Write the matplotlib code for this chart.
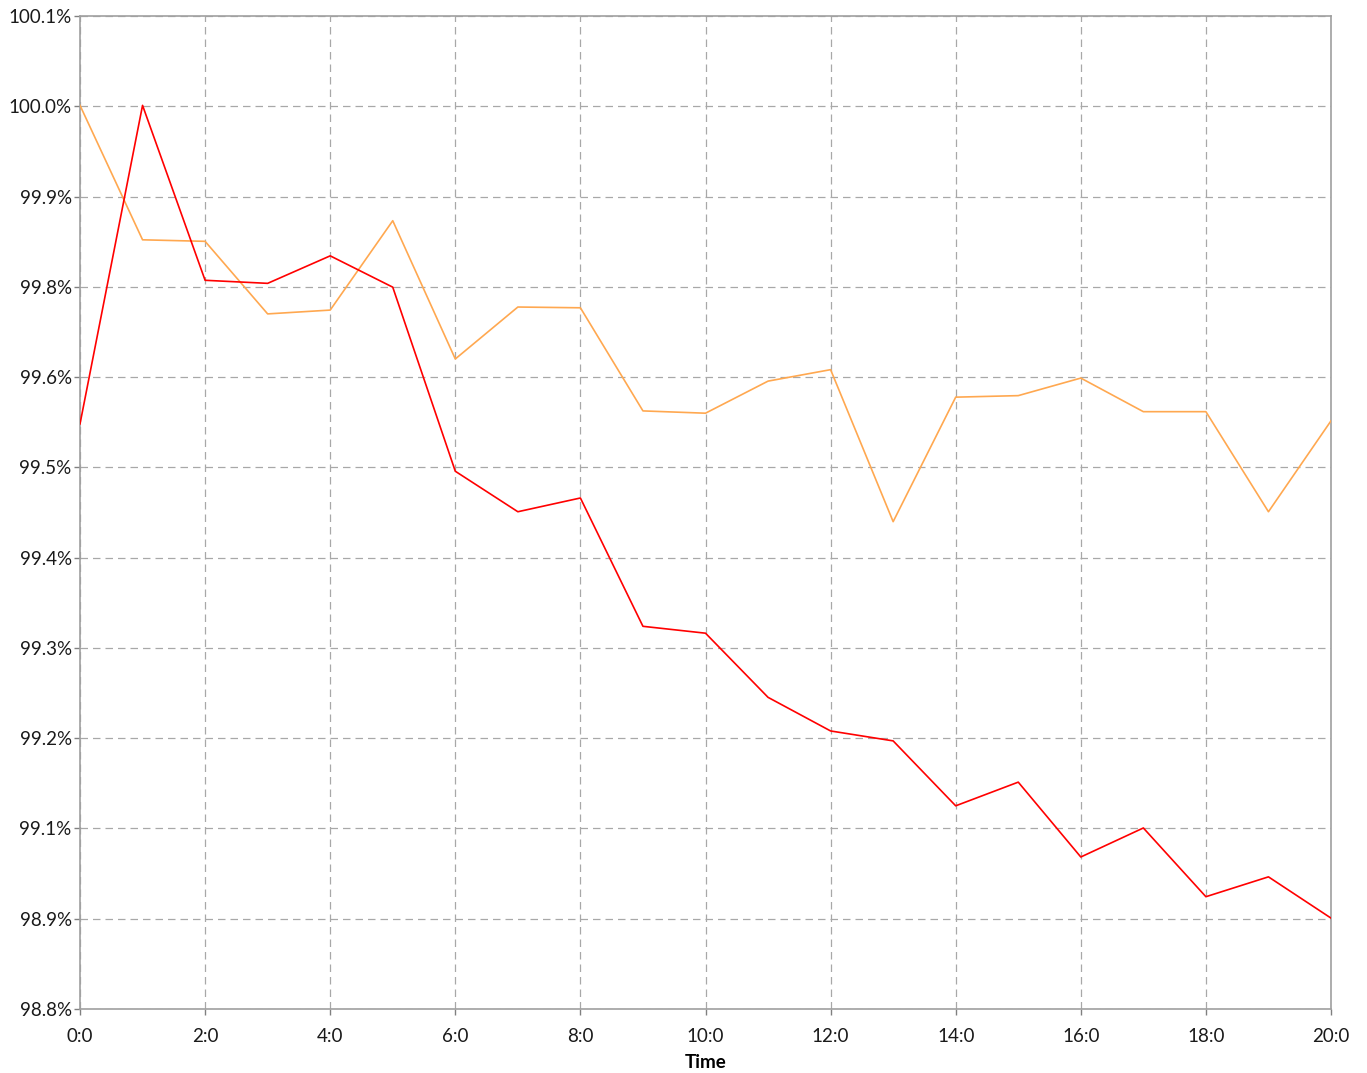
import numpy as np
import matplotlib
matplotlib.use("Agg")
import matplotlib.pyplot as plt

# hours 0..20, values (percent)
hours = list(range(21))
red_vals = [99.566, 99.983, 99.754, 99.750, 99.786, 99.745, 99.504, 99.451,
            99.469, 99.301, 99.292, 99.208, 99.164, 99.151, 99.066, 99.097,
            98.999, 99.037, 98.947, 98.973, 98.919]
orange_vals = [99.983, 99.807, 99.805, 99.710, 99.715, 99.832, 99.651, 99.719,
               99.718, 99.583, 99.580, 99.622, 99.637, 99.438, 99.601, 99.603,
               99.626, 99.582, 99.582, 99.451, 99.570]

y_min, y_max = 98.8, 100.1
y_labels = ["98.8%", "98.9%", "99.1%", "99.2%", "99.3%", "99.4%",
            "99.5%", "99.6%", "99.8%", "99.9%", "100.0%", "100.1%"]
x_ticks = list(range(0, 21, 2))
x_labels = ["%d:0" % h for h in x_ticks]

plt.rcParams['font.family'] = ['Lato', 'DejaVu Sans']

fig = plt.figure(figsize=(13.67, 10.73), dpi=100)
ax = fig.add_axes([80 / 1367, 1 - 1009 / 1073, (1331 - 80) / 1367, (1009 - 16) / 1073])

ax.plot(hours, orange_vals, color='#FFA850', lw=1.2, zorder=3)
ax.plot(hours, red_vals, color='#FF0000', lw=1.2, zorder=4)

ax.set_xlim(0, 20)
ax.set_ylim(y_min, y_max)
ax.set_xticks(x_ticks)
ax.set_xticklabels(x_labels)
ax.set_yticks(np.linspace(y_min, y_max, len(y_labels)))
ax.set_yticklabels(y_labels)

ax.grid(True, color='#A8A8A8', lw=0.9, linestyle=(0, (6, 4)), zorder=1)
for s in ax.spines.values():
    s.set_color('#A0A0A0')
    s.set_linewidth(1.2)

ax.tick_params(axis='both', colors='#808080', labelcolor='#1A1A1A',
               labelsize=13.5, length=4, width=1)
ax.tick_params(axis='y', pad=2)
ax.tick_params(axis='x', pad=10)
ax.set_xlabel("Time", fontsize=13.5, fontweight='bold', labelpad=6)

fig.savefig("out.png", dpi=100)
